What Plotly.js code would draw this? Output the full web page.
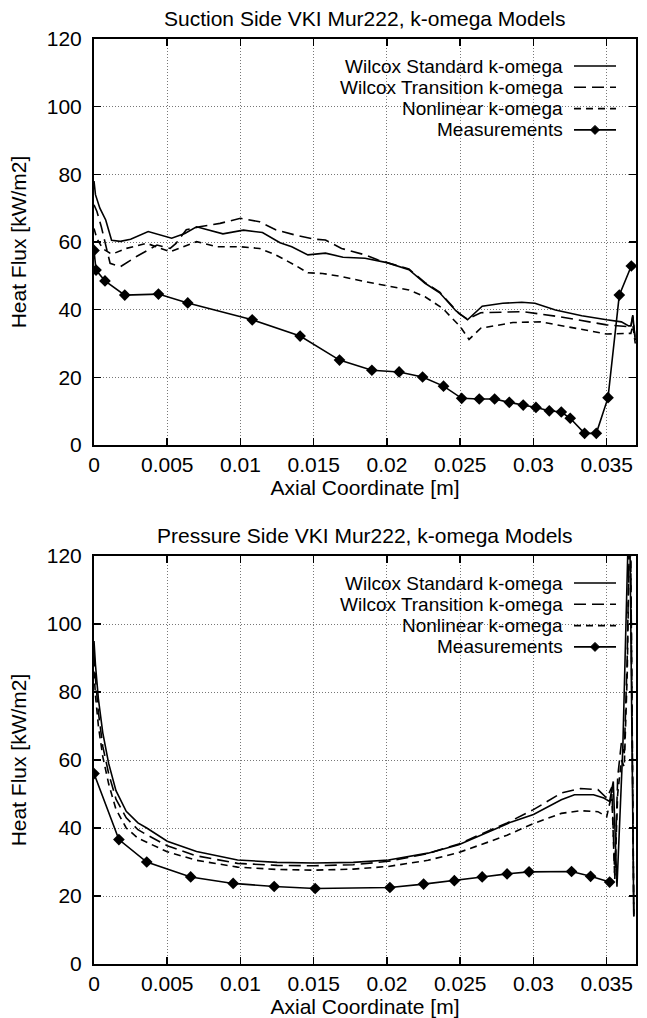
<!DOCTYPE html>
<html>
<head>
<meta charset="utf-8">
<script src="https://cdn.plot.ly/plotly-3.0.1.min.js"></script>
<style>html,body{margin:0;padding:0;background:#fff}#chart{width:647px;height:1018px}</style>
</head>
<body>
<div id="chart"></div>
<script>
// ---------------- Data: Suction side ----------------
const sucStdX = [0, 0.0001, 0.0004, 0.0008, 0.0012, 0.0018, 0.0025, 0.0037, 0.0053, 0.0062, 0.0070, 0.0080, 0.0088, 0.0102, 0.0115, 0.0127, 0.0135, 0.0146, 0.0158, 0.0170, 0.0185, 0.0200, 0.0215, 0.0226, 0.0236, 0.0247, 0.0255, 0.0265, 0.0279, 0.0292, 0.0301, 0.0315, 0.0333, 0.0350, 0.0360, 0.0365, 0.03665, 0.03678, 0.03695];
const sucStdY = [78, 74, 70, 66.5, 60.5, 60.2, 60.8, 63.1, 61.1, 62.5, 64.5, 63.3, 62.4, 63.5, 62.8, 59.8, 58.6, 56.2, 56.7, 55.5, 55.2, 53.9, 51.8, 47.8, 45.0, 39.7, 37.0, 41.0, 41.9, 42.2, 41.9, 39.9, 38.2, 37.0, 36.4, 35.2, 35.2, 38.4, 31];

const sucTrX = [0, 0.0002, 0.0005, 0.0011, 0.0018, 0.0029, 0.0043, 0.0052, 0.0056, 0.0063, 0.0072, 0.0086, 0.0100, 0.0113, 0.0124, 0.0137, 0.0151, 0.0158, 0.0169, 0.0185, 0.0194, 0.0215, 0.0226, 0.0236, 0.0249, 0.0255, 0.0264, 0.0293, 0.0318, 0.0350, 0.0364, 0.03665, 0.03678, 0.03695];
const sucTrY = [71, 69, 64.5, 53.7, 52.7, 55.7, 59.1, 58.1, 59.6, 63.6, 64.5, 65.5, 67.0, 66.0, 63.6, 62.1, 60.8, 60.6, 58.1, 56.2, 54.7, 52.0, 48.0, 45.2, 38.9, 37.2, 39.1, 39.4, 37.9, 35.5, 35.0, 34.8, 38.0, 31];

const sucNlX = [0, 0.0002, 0.0006, 0.0011, 0.0014, 0.0022, 0.0036, 0.0043, 0.0052, 0.0061, 0.0070, 0.0084, 0.0100, 0.0113, 0.0124, 0.0137, 0.0146, 0.0156, 0.0169, 0.0185, 0.0200, 0.0215, 0.0226, 0.0238, 0.0250, 0.0256, 0.0264, 0.0286, 0.0305, 0.0323, 0.0350, 0.0364, 0.03665, 0.03678, 0.03695];
const sucNlY = [64, 61, 58, 56.7, 56.7, 58.1, 59.6, 58.6, 57.1, 58.6, 60.1, 58.6, 58.6, 58.1, 56.2, 53.2, 50.9, 50.7, 49.8, 48.3, 47.1, 45.8, 43.8, 40.4, 35.0, 31.2, 34.5, 36.2, 36.4, 35.0, 32.8, 33.0, 33.0, 35.5, 30];

const sucMeasX = [0, 0.00014, 0.00075, 0.0021, 0.0044, 0.0064, 0.0108, 0.01407, 0.01676, 0.01897, 0.02083, 0.02243, 0.02386, 0.0251, 0.0263, 0.02735, 0.02835, 0.0293, 0.03017, 0.03108, 0.0319, 0.03251, 0.03349, 0.03429, 0.03509, 0.03586, 0.03668];
const sucMeasY = [57.5, 51.7, 48.5, 44.3, 44.6, 42.0, 37.0, 32.2, 25.1, 22.1, 21.6, 20.1, 17.4, 13.8, 13.6, 13.6, 12.6, 11.8, 11.1, 10.1, 9.75, 7.9, 3.45, 3.45, 14.0, 44.3, 52.9];

// ---------------- Data: Pressure side ----------------
const preStdX = [0, 0.0001, 0.0003, 0.0006, 0.001, 0.0015, 0.0022, 0.003, 0.0036, 0.005, 0.007, 0.0098, 0.0125, 0.015, 0.0177, 0.0201, 0.0228, 0.0249, 0.027, 0.0285, 0.0300, 0.0319, 0.0328, 0.0341, 0.0348, 0.0352, 0.03545, 0.0357, 0.0361, 0.03655, 0.03685];
const preStdY = [95, 88, 78, 68, 59, 51, 44.9, 41.5, 40, 36.1, 33.1, 30.6, 29.9, 29.7, 29.9, 30.6, 32.6, 35.1, 39, 41.8, 44, 48.3, 49.8, 49.8, 48.8, 47.8, 53.7, 22.7, 63.6, 140, 14];

const preTrX = [0, 0.0001, 0.0003, 0.0006, 0.001, 0.0015, 0.0022, 0.003, 0.0036, 0.005, 0.007, 0.0098, 0.0125, 0.015, 0.0177, 0.0201, 0.0228, 0.0249, 0.027, 0.0282, 0.0300, 0.0319, 0.0332, 0.0344, 0.0350, 0.03535, 0.03555, 0.03575, 0.0360, 0.0362, 0.0364, 0.0366, 0.03685];
const preTrY = [91, 84, 74, 64, 56, 48.5, 43, 39.5, 38, 34.8, 31.8, 29.6, 29.0, 28.9, 29.2, 30.2, 32.5, 35.3, 39.3, 41.5, 45.4, 50.3, 51.6, 51.3, 48.8, 52, 26, 55, 65, 62, 90, 140, 14];

const preNlX = [0, 0.0001, 0.0003, 0.0006, 0.001, 0.0015, 0.0022, 0.003, 0.0036, 0.005, 0.007, 0.0098, 0.0125, 0.015, 0.0177, 0.0201, 0.0228, 0.0249, 0.027, 0.0282, 0.030, 0.0319, 0.0332, 0.0344, 0.0350, 0.03535, 0.03555, 0.03575, 0.0360, 0.0362, 0.0364, 0.0366, 0.03685];
const preNlY = [86, 79, 70, 61, 53, 45.5, 40, 37, 35.8, 33, 30.5, 28.5, 27.8, 27.6, 27.9, 28.7, 30.5, 32.8, 36, 37.9, 41.3, 44.3, 45.1, 44.8, 43.3, 50, 25, 50, 60, 58, 85, 140, 14];

const preMeasX = [0, 0.0017, 0.0036, 0.0066, 0.0095, 0.0123, 0.0151, 0.0202, 0.0225, 0.0246, 0.0265, 0.0282, 0.0297, 0.0326, 0.0339, 0.0352];
const preMeasY = [56, 36.6, 30.0, 25.6, 23.7, 22.8, 22.2, 22.5, 23.5, 24.5, 25.6, 26.5, 27.1, 27.2, 25.8, 24.1];

// ---------------- Labels ----------------
const titles = ["Suction Side VKI Mur222, k-omega Models", "Pressure Side VKI Mur222, k-omega Models"];
const seriesNames = ["Wilcox Standard k-omega", "Wilcox Transition k-omega", "Nonlinear k-omega", "Measurements"];
const xTickVals = [0, 0.005, 0.01, 0.015, 0.02, 0.025, 0.03, 0.035];
const xTickText = ["0", "0.005", "0.01", "0.015", "0.02", "0.025", "0.03", "0.035"];
const yTickVals = [0, 20, 40, 60, 80, 100, 120];
const xTitle = "Axial Coordinate [m]";
const yTitle = "Heat Flux [kW/m2]";

// ---------------- Layout geometry ----------------
const W = 647, H = 1018;
const M = {l: 94, r: 11, t: 39, b: 54};
const PW = W - M.l - M.r, PH = H - M.t - M.b;
const topDomain = [(964 - 445) / PH, 1];
const botDomain = [0, (964 - 556) / PH];
const FONT = "Liberation Sans, Arial, Helvetica, sans-serif";
const FS = 21;
const LFS = 19;

const styles = [
  {color: "#000", width: 1.6, dash: "solid"},
  {color: "#000", width: 1.6, dash: "12px,6px"},
  {color: "#000", width: 1.6, dash: "7px,5px"},
  {color: "#000", width: 1.6, dash: "solid"}
];

function tr(x, y, i, xa, ya) {
  const t = {x: x, y: y, type: "scatter", mode: i === 3 ? "lines+markers" : "lines",
    line: {color: styles[i].color, width: styles[i].width, dash: styles[i].dash},
    xaxis: xa, yaxis: ya, showlegend: false, hoverinfo: "skip", cliponaxis: true};
  if (i === 3) t.marker = {symbol: "diamond", size: 9, color: "#000"};
  return t;
}

const data = [
  tr(sucStdX, sucStdY, 0, "x", "y"),
  tr(sucTrX, sucTrY, 1, "x", "y"),
  tr(sucNlX, sucNlY, 2, "x", "y"),
  tr(sucMeasX, sucMeasY, 3, "x", "y"),
  tr(preStdX, preStdY, 0, "x2", "y2"),
  tr(preTrX, preTrY, 1, "x2", "y2"),
  tr(preNlX, preNlY, 2, "x2", "y2"),
  tr(preMeasX, preMeasY, 3, "x2", "y2")
];

function xax(anchor) {
  return {anchor: anchor, domain: [0, 1], range: [0, 0.037], tickvals: xTickVals, ticktext: xTickText,
    ticks: "inside", ticklen: 7, tickwidth: 1.5, tickcolor: "#000", mirror: "ticks",
    showline: true, linewidth: 2, linecolor: "#000", zeroline: false,
    showgrid: true, gridcolor: "#777", gridwidth: 1, griddash: "1px,2px",
    tickfont: {family: FONT, size: FS, color: "#000"}, ticklabelstandoff: 0,
    title: {text: xTitle, font: {family: FONT, size: FS, color: "#000"}, standoff: 2}};
}
function yax(anchor, domain) {
  return {anchor: anchor, domain: domain, range: [0, 120], tickvals: yTickVals,
    ticks: "inside", ticklen: 7, tickwidth: 1.5, tickcolor: "#000", mirror: "ticks",
    showline: true, linewidth: 2, linecolor: "#000", zeroline: false,
    showgrid: true, gridcolor: "#777", gridwidth: 1, griddash: "1px,2px",
    tickfont: {family: FONT, size: FS, color: "#000"}, ticklabelstandoff: 6,
    title: {text: yTitle, font: {family: FONT, size: FS, color: "#000"}, standoff: 14}};
}

// legend (drawn manually: text right-aligned, sample on the right)
const annotations = [];
const shapes = [];
const px2x = px => (px - M.l) / PW;
const px2y = py => (H - M.b - py) / PH;
const legendTops = [39, 556];
const textRight = 564, sampL = 574, sampR = 616, rowGap = 21.3, firstRow = 27;
legendTops.forEach((top, p) => {
  annotations.push({text: titles[p], xref: "paper", yref: "paper", x: 0.5, y: px2y(top - 21),
    xanchor: "center", yanchor: "middle", showarrow: false, font: {family: FONT, size: FS, color: "#000"}});
  seriesNames.forEach((nm, i) => {
    const cy = top + firstRow + i * rowGap;
    annotations.push({text: nm, xref: "paper", yref: "paper", x: px2x(textRight), y: px2y(cy),
      xanchor: "right", yanchor: "middle", showarrow: false, borderpad: 0,
      font: {family: FONT, size: LFS, color: "#000"}});
    shapes.push({type: "line", xref: "paper", yref: "paper", x0: px2x(sampL), x1: px2x(sampR),
      y0: px2y(cy), y1: px2y(cy), line: {color: "#000", width: styles[i].width, dash: styles[i].dash}});
    if (i === 3) {
      const cx = (sampL + sampR) / 2, r = 4.5;
      shapes.push({type: "path", xref: "paper", yref: "paper",
        path: `M ${px2x(cx - r)} ${px2y(cy)} L ${px2x(cx)} ${px2y(cy - r)} L ${px2x(cx + r)} ${px2y(cy)} L ${px2x(cx)} ${px2y(cy + r)} Z`,
        fillcolor: "#000", line: {color: "#000", width: 1}});
    }
  });
});

const layout = {
  width: W, height: H, margin: M, paper_bgcolor: "#fff", plot_bgcolor: "#fff",
  font: {family: FONT, size: FS, color: "#000"}, showlegend: false,
  xaxis: xax("y"), yaxis: yax("x", topDomain),
  xaxis2: xax("y2"), yaxis2: yax("x2", botDomain),
  annotations: annotations, shapes: shapes
};

Plotly.newPlot("chart", data, layout, {displayModeBar: false, staticPlot: true});
</script>
</body>
</html>
